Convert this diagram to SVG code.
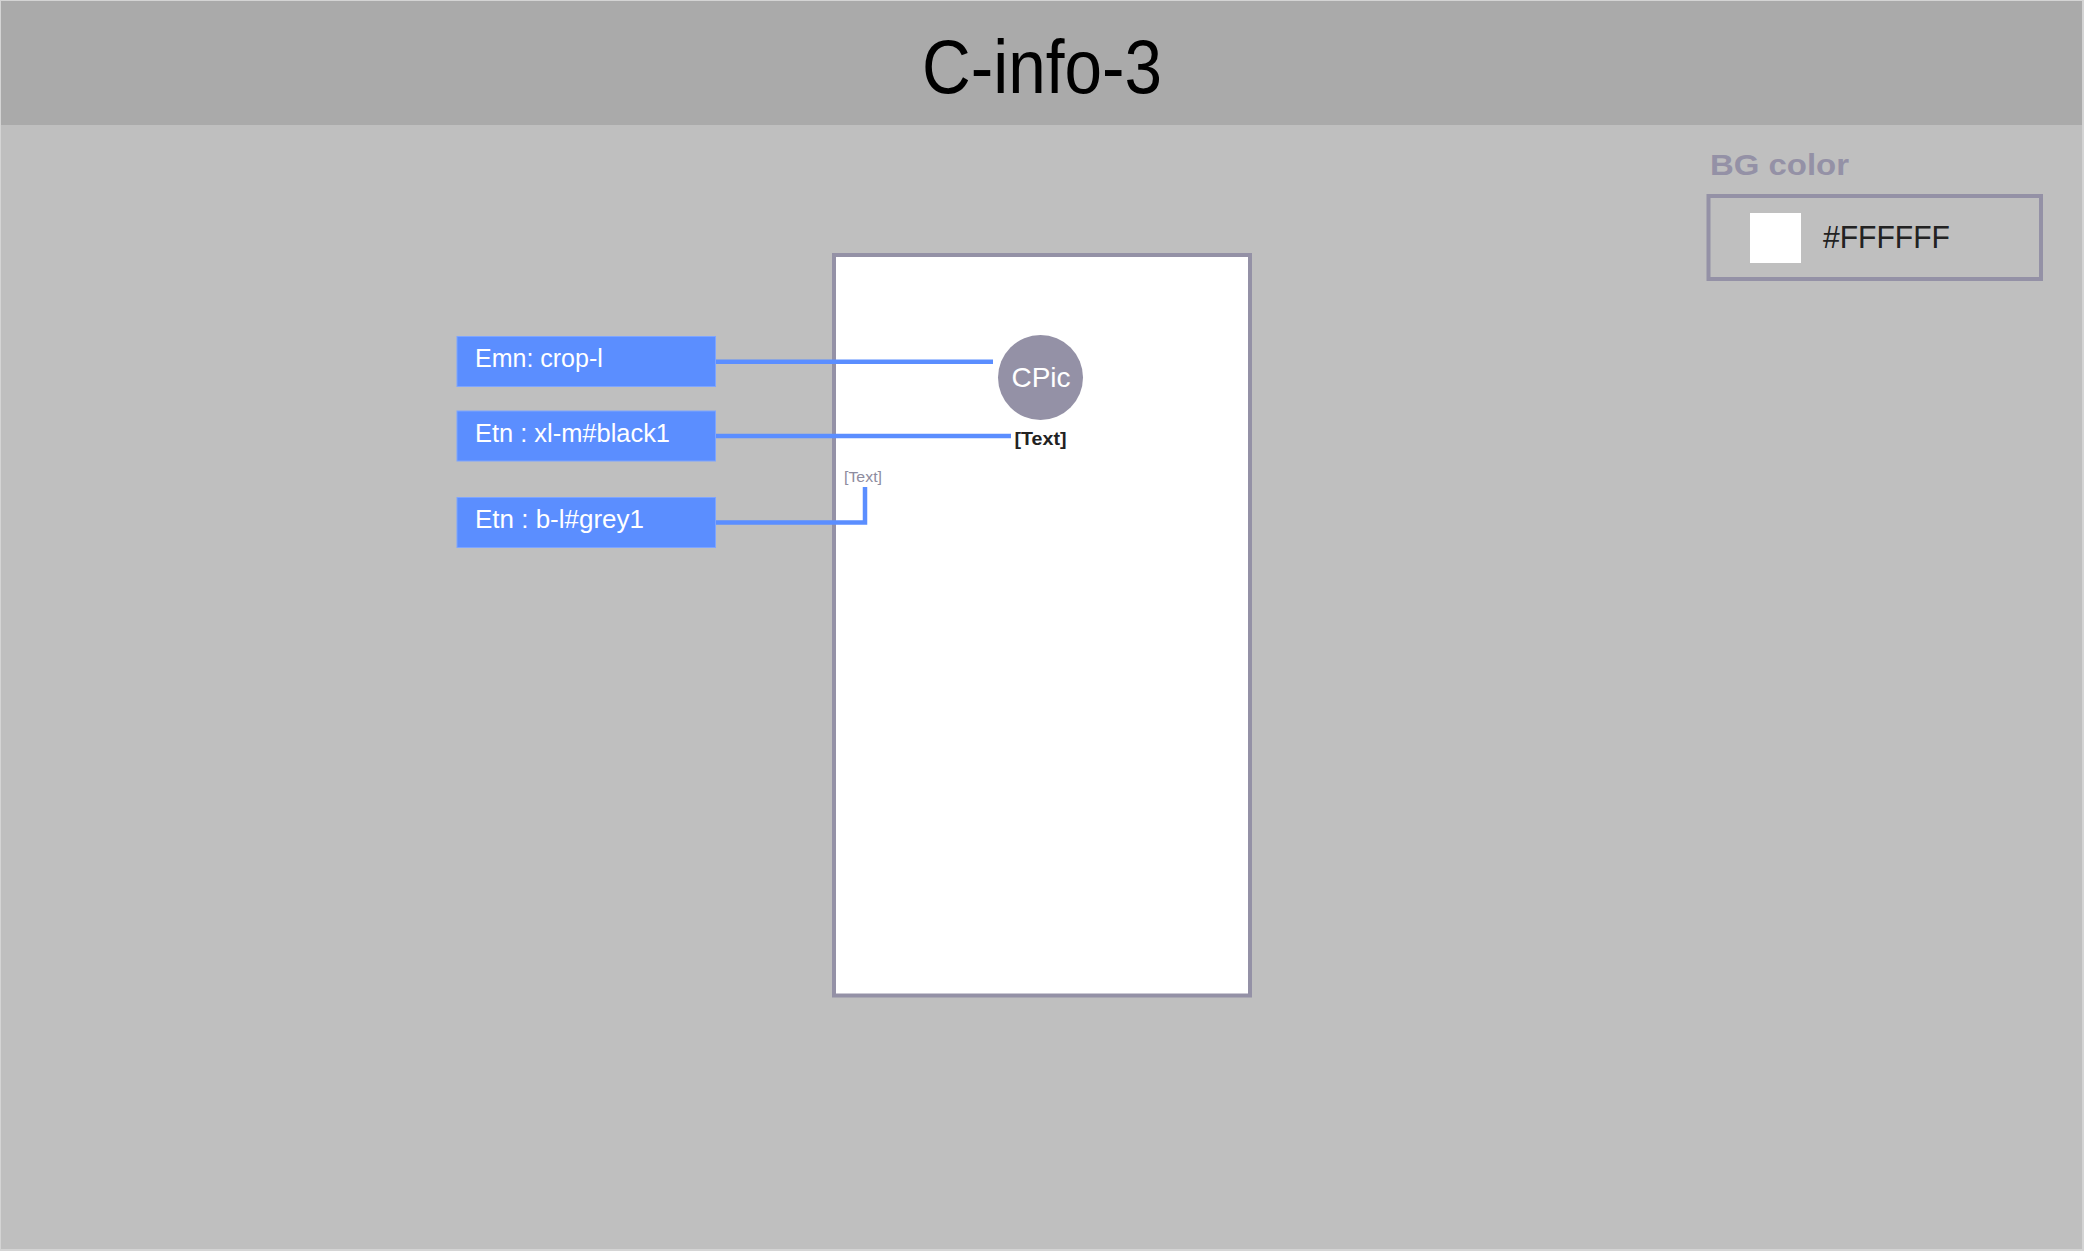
<svg xmlns="http://www.w3.org/2000/svg" width="2084" height="1251" viewBox="0 0 2084 1251">
<style>
.lbl rect{fill:#5b8eff;stroke:#7ea5ff;stroke-width:1}
.lbl text{font-family:"Liberation Sans",Arial,sans-serif;font-size:25px;fill:#ffffff}
.conn{fill:none;stroke:#5b8eff;stroke-width:4.5}
</style>
<rect x="0" y="0" width="2084" height="1251" fill="#d4d4d4"/>
<rect x="1" y="1" width="2081" height="1248" fill="#bfbfbf"/>
<rect x="1" y="1" width="2081" height="124" fill="#aaaaaa"/>
<g id="title">
<text x="1042" y="93" text-anchor="middle" font-family="Liberation Sans,Arial,sans-serif" font-size="76" fill="#000000" textLength="240" lengthAdjust="spacingAndGlyphs">C-info-3</text>
</g>
<g id="bgcolor">
<text x="1710" y="175" font-family="Liberation Sans,Arial,sans-serif" font-size="30" font-weight="bold" fill="#9491a6" textLength="139" lengthAdjust="spacingAndGlyphs">BG color</text>
<rect x="1708.5" y="196" width="332.5" height="83" fill="none" stroke="#9491a6" stroke-width="4"/>
<rect x="1750" y="213" width="51" height="50" fill="#ffffff"/>
<text x="1823" y="248" font-family="Liberation Sans,Arial,sans-serif" font-size="32" fill="#222222" textLength="127" lengthAdjust="spacingAndGlyphs">#FFFFFF</text>
</g>
<g id="phone">
<rect x="834" y="255" width="416" height="740.5" fill="#ffffff" stroke="#9491a6" stroke-width="4"/>
</g>
<g id="cpic">
<circle cx="1040.5" cy="377.5" r="42.5" fill="#9491a6"/>
<text x="1041" y="387" text-anchor="middle" font-family="Liberation Sans,Arial,sans-serif" font-size="28" fill="#ffffff">CPic</text>
</g>
<g id="text-bold">
<text x="1040.5" y="445" text-anchor="middle" font-family="Liberation Sans,Arial,sans-serif" font-size="18" font-weight="bold" fill="#222222" textLength="52" lengthAdjust="spacingAndGlyphs">[Text]</text>
</g>
<g id="text-grey">
<text x="844" y="482" font-family="Liberation Sans,Arial,sans-serif" font-size="14" fill="#8e8ca0" textLength="38" lengthAdjust="spacingAndGlyphs">[Text]</text>
</g>
<g id="label-emn" class="lbl">
<rect x="457" y="336.5" width="258.5" height="50"/>
<text x="475" y="367">Emn: crop-l</text>
</g>
<g id="label-etn-xl" class="lbl">
<rect x="457" y="411" width="258.5" height="50"/>
<text x="475" y="442" textLength="195" lengthAdjust="spacingAndGlyphs">Etn : xl-m#black1</text>
</g>
<g id="label-etn-bl" class="lbl">
<rect x="457" y="497.5" width="258.5" height="50"/>
<text x="475" y="528" textLength="169" lengthAdjust="spacingAndGlyphs">Etn : b-l#grey1</text>
</g>
<g id="connectors">
<path class="conn" d="M716,361.7 H993"/>
<path class="conn" d="M716,436 H1011"/>
<path class="conn" d="M716,522.5 H865 V487"/>
</g>
</svg>
